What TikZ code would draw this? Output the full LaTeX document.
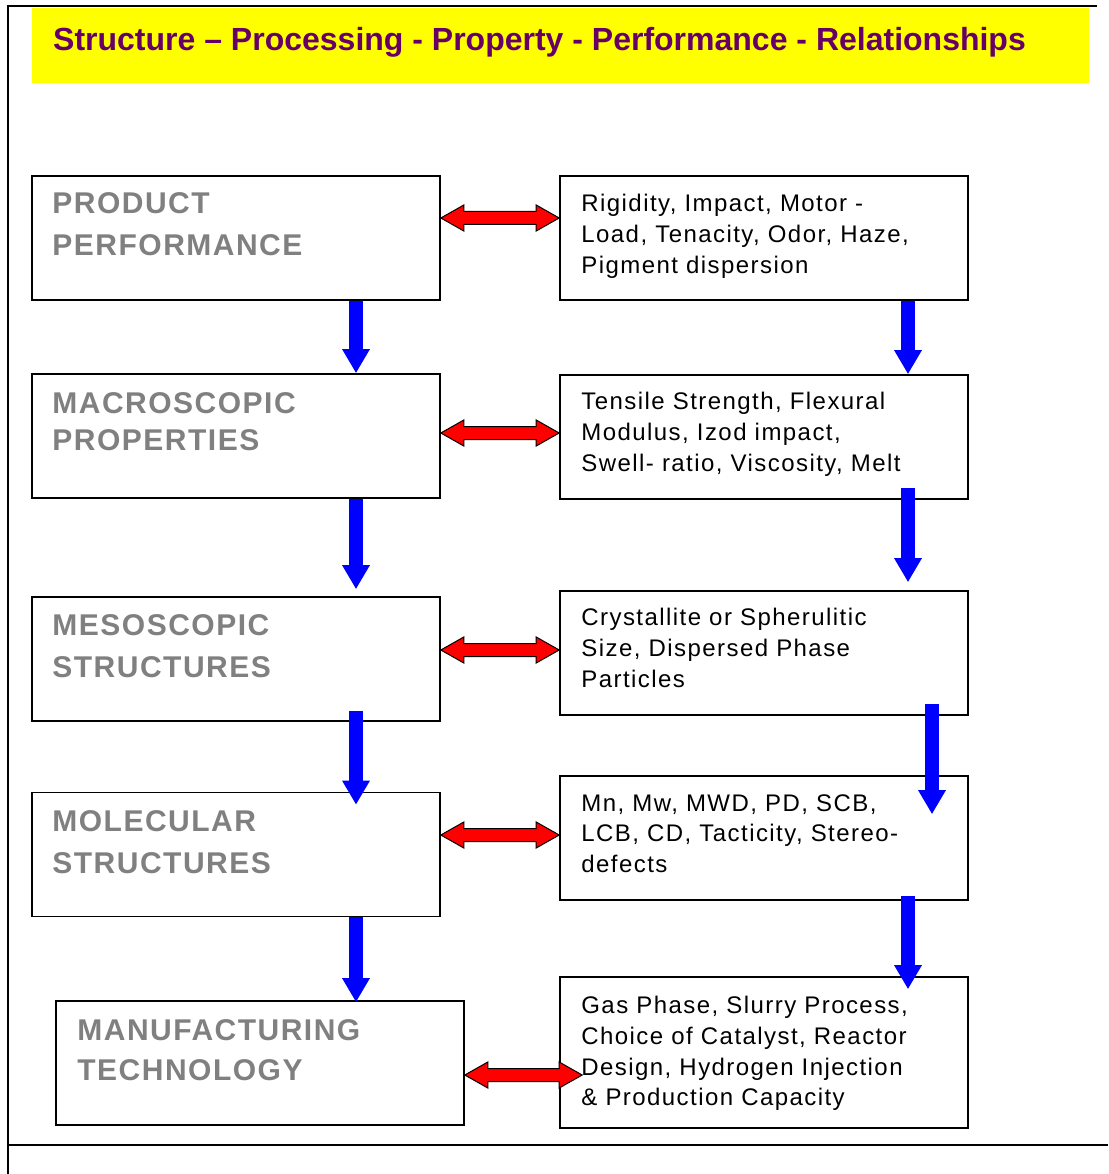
\documentclass[tikz,border=0pt]{standalone}
\usepackage{fontspec}
\setmainfont{Liberation Sans}
\newfontfamily\headfont[LetterSpace=5]{Liberation Sans}
\newfontfamily\itemfont[LetterSpace=6]{Liberation Sans}
\usetikzlibrary{arrows.meta,calc}
\definecolor{plum}{HTML}{660066}
\definecolor{greytext}{HTML}{808080}
\definecolor{banner}{HTML}{FFFF00}
\definecolor{flow}{HTML}{0000FF}
\definecolor{link}{HTML}{FF0000}

% red two-headed block arrow between two points (height taken from the first)
\newcommand\twoway[2]{%
 \filldraw[fill=link,draw=black,line width=1pt] let \p1=(#1), \p2=(#2) in
  (\p1) -- (\x1+23pt,\y1+13pt) -- (\x1+23pt,\y1+6.5pt) -- (\x2-23pt,\y1+6.5pt)
  -- (\x2-23pt,\y1+13pt) -- (\x2,\y1) -- (\x2-23pt,\y1-13pt) -- (\x2-23pt,\y1-6.5pt)
  -- (\x1+23pt,\y1-6.5pt) -- (\x1+23pt,\y1-13pt) -- cycle;}

\begin{document}
\begin{tikzpicture}[x=1pt,y=-1pt,
  box/.style={draw,line width=1.6pt,minimum width=408pt,minimum height=124pt,inner sep=0pt},
  headtxt/.style={anchor=north west,inner sep=0pt,align=left,text=greytext,
    font=\headfont\bfseries\fontsize{30}{42}\selectfont},
  itemtxt/.style={anchor=north west,inner sep=0pt,align=left,
    font=\itemfont\fontsize{24}{30.7}\selectfont},
  down/.style={flow,line width=14pt,-{Triangle[length=24pt,width=26pt]}}]
 \useasboundingbox (0,0) rectangle (1108,1174);
 % frame
 \draw[line width=2pt] (1097,6) -- (8,6) -- (8,1174);
 \draw[line width=2pt] (8,1145) -- (1108,1145);
 % banner
 \node[fill=banner,minimum width=1057pt,minimum height=75pt,inner sep=0pt] (banner) at (560.5,45.5) {};
 \node[anchor=base west,inner sep=0pt,text=plum,font=\bfseries\fontsize{32}{36}\selectfont]
   (title) at (53,51) {Structure -- Processing - Property - Performance - Relationships};

 % left column
 \node[box] (perf) at (236,238) {};
 \node[box] (macro) at (236,436) {};
 \node[box] (meso) at (236,659) {};
 \node[box] (mole) at (236,854.5) {};
 \node[box] (manu) at (260,1063) {};
 \node[headtxt] (perft) at ([xshift=21pt,yshift=-17pt]perf.north west) {PRODUCT\\PERFORMANCE};
 \node[headtxt,font=\headfont\bfseries\fontsize{30}{37}\selectfont] (macrot)
   at ([xshift=21pt,yshift=-19pt]macro.north west) {MACROSCOPIC\\PROPERTIES};
 \node[headtxt] (mesot) at ([xshift=21pt,yshift=-18pt]meso.north west) {MESOSCOPIC\\STRUCTURES};
 \node[headtxt] (molet) at ([xshift=21pt,yshift=-19pt]mole.north west) {MOLECULAR\\STRUCTURES};
 \node[headtxt,font=\headfont\bfseries\fontsize{30}{40}\selectfont] (manut)
   at ([xshift=22pt,yshift=-19pt]manu.north west) {MANUFACTURING\\TECHNOLOGY};

 % right column
 \node[box] (perfd) at (764,238) {};
 \node[box] (macrod) at (764,437) {};
 \node[box] (mesod) at (764,653) {};
 \node[box] (moled) at (764,838) {};
 \node[box,minimum height=151pt] (manud) at (764,1052.5) {};
 \node[itemtxt] (perfdt) at ([xshift=22pt,yshift=-19pt]perfd.north west)
   {Rigidity, Impact, Motor -\\Load, Tenacity, Odor, Haze,\\Pigment dispersion};
 \node[itemtxt] (macrodt) at ([xshift=22pt,yshift=-18pt]macrod.north west)
   {Tensile Strength, Flexural\\Modulus, Izod impact,\\Swell- ratio, Viscosity, Melt};
 \node[itemtxt] (mesodt) at ([xshift=22pt,yshift=-18pt]mesod.north west)
   {Crystallite or Spherulitic\\Size, Dispersed Phase\\Particles};
 \node[itemtxt] (moledt) at ([xshift=22pt,yshift=-19pt]moled.north west)
   {Mn, Mw, MWD, PD, SCB,\\LCB, CD, Tacticity, Stereo-\\defects};
 \node[itemtxt] (manudt) at ([xshift=22pt,yshift=-20pt]manud.north west)
   {Gas Phase, Slurry Process,\\Choice of Catalyst, Reactor\\Design, Hydrogen Injection\\\& Production Capacity};

 % downward flow
 \draw[down] ([xshift=120pt]perf.south) -- ([xshift=120pt]macro.north);
 \draw[down] ([xshift=120pt]macro.south) -- ([xshift=120pt,yshift=7pt]meso.north);
 \draw[down] ([xshift=120pt,yshift=11pt]meso.south) -- ([xshift=120pt,yshift=-13pt]mole.north);
 \draw[down] ([xshift=120pt]mole.south) -- ([xshift=96pt,yshift=-2pt]manu.north);
 \draw[down] ([xshift=144pt]perfd.south) -- ([xshift=144pt]macrod.north);
 \draw[down] ([xshift=144pt,yshift=12pt]macrod.south) -- ([xshift=144pt,yshift=8pt]mesod.north);
 \draw[down] ([xshift=168pt,yshift=12pt]mesod.south) -- ([xshift=168pt,yshift=-39pt]moled.north);
 \draw[down] ([xshift=144pt,yshift=5pt]moled.south) -- ([xshift=144pt,yshift=-13pt]manud.north);

 % two-way links
 \twoway{[yshift=20pt]perf.east}{perfd.west}
 \twoway{[yshift=3pt]macro.east}{macrod.west}
 \twoway{[yshift=9pt]meso.east}{mesod.west}
 \twoway{[yshift=19.5pt]mole.east}{moled.west}
 \twoway{[yshift=-12pt]manu.east}{[xshift=23pt]manud.west}
\end{tikzpicture}
\end{document}
